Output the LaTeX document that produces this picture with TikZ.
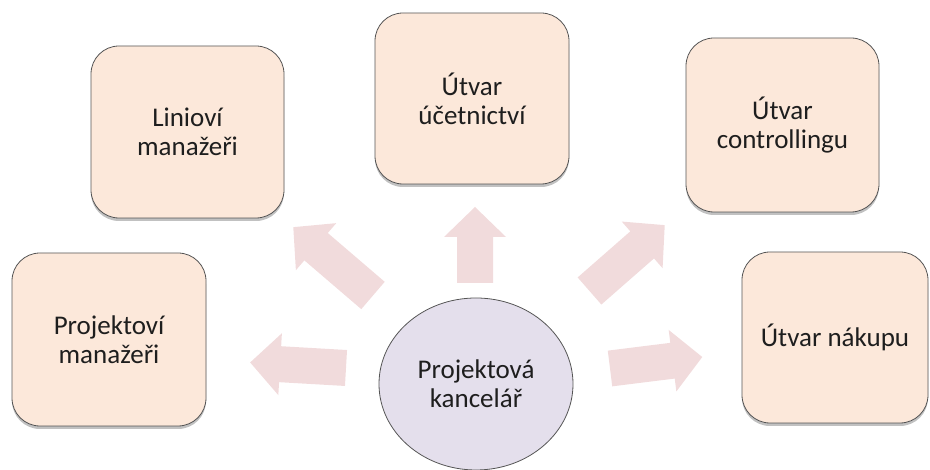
\documentclass[tikz,border=0pt]{standalone}
\usepackage{fontspec}
\setmainfont{Carlito}
\usetikzlibrary{shapes.geometric,shadows}

\definecolor{boxfill}{RGB}{252,232,218}
\definecolor{arrowfill}{RGB}{241,219,220}
\definecolor{hubfill}{RGB}{228,223,236}
\definecolor{edgegrey}{RGB}{85,85,85}
\definecolor{textgrey}{RGB}{30,30,30}

% block arrow: base point, direction angle, overall length
\newcommand{\blockarrow}[4]{%
  \fill[arrowfill, shift={(#1,#2)}, rotate=#3]
    (0,-18) -- (#4-30,-18) -- (#4-30,-31) -- (#4,0)
    -- (#4-30,31) -- (#4-30,18) -- (0,18) -- cycle;
}

\begin{document}
\begin{tikzpicture}[x=1pt,y=1pt,
  unitbox/.style={draw=edgegrey, line width=0.8pt, fill=boxfill,
    rounded corners=28pt, inner sep=0pt, align=center,
    text=textgrey, font=\fontsize{27}{29}\selectfont,
    drop shadow={shadow xshift=0pt, shadow yshift=-3pt, opacity=0.35, fill=black!70}},
  hub/.style={ellipse, draw=edgegrey, line width=0.8pt, fill=hubfill,
    inner sep=0pt, align=center, text=textgrey,
    font=\fontsize{27}{29}\selectfont,
    minimum width=194pt, minimum height=172pt}
]
\useasboundingbox (0,0) rectangle (930,470);

% departments around the office
\node[unitbox, minimum width=194pt, minimum height=173pt] (pm) at (109,130.5)
  {Projektoví\\manažeři};
\node[unitbox, minimum width=193pt, minimum height=172pt] (lm) at (187.5,338)
  {Linioví\\manažeři};
\node[unitbox, minimum width=194pt, minimum height=171pt] (uc) at (472,371.5)
  {Útvar\\účetnictví};
\node[unitbox, minimum width=193pt, minimum height=174pt] (co) at (782.5,345)
  {Útvar\\controllingu};
\node[unitbox, minimum width=186pt, minimum height=171pt] (na) at (835,132.5)
  {Útvar nákupu};

% central office
\node[hub] (pk) at (476,86) {Projektová\\kancelář};

% block arrows pointing outward
\blockarrow{346}{102}{176.7}{96}
\blockarrow{373}{174.5}{139.4}{105}
\blockarrow{475}{187}{90}{76}
\blockarrow{589.5}{179}{41.2}{100}
\blockarrow{610}{101.5}{7.1}{93}
\end{tikzpicture}
\end{document}
